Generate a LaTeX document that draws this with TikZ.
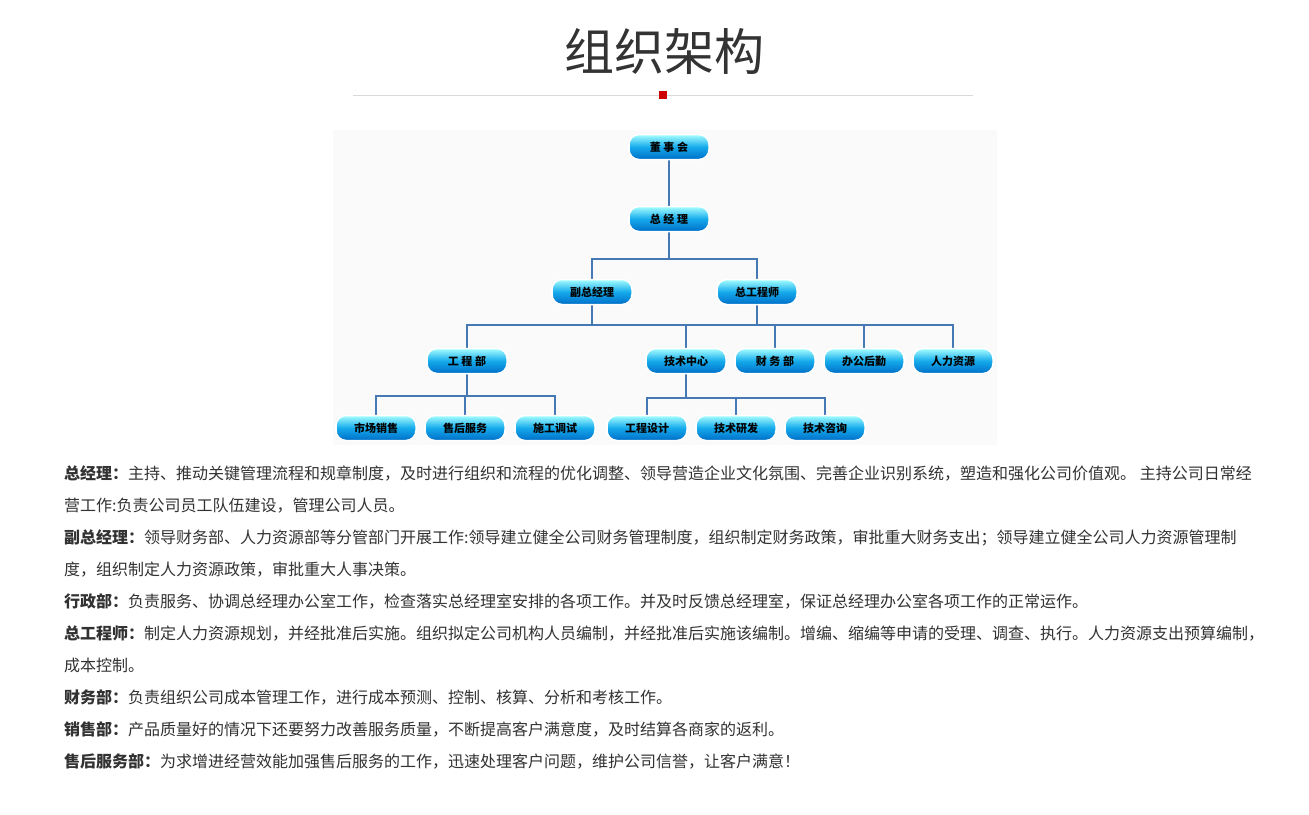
\documentclass[tikz,border=0pt]{standalone}
\usepackage{fontspec}
\setmainfont{Noto Sans CJK SC}
\newfontfamily\cjk{Noto Sans CJK SC}
\begin{document}
\begin{tikzpicture}[x=1pt,y=-1pt,
  box/.style={rounded corners=10pt,draw=white,line width=1.5pt,top color=cyan!35!white,bottom color={rgb,255:red,0;green,110;blue,200},middle color={rgb,255:red,20;green,170;blue,235},minimum width=80pt,minimum height=25pt,inner sep=0pt,font=\cjk\fontsize{11}{11}\selectfont\bfseries},
  conn/.style={draw={rgb,255:red,70;green,120;blue,180},line width=2pt},
  para/.style={anchor=base west,inner sep=0pt,font=\cjk\fontsize{16}{16}\selectfont,text={rgb,255:red,50;green,50;blue,50}}]
\useasboundingbox (0,0) rectangle (1309,814);
\fill[white] (0,0) rectangle (1309,814);
\fill[gray!4] (333,130) rectangle (997,445);
\node (title) at (664,52) {\cjk\fontsize{50}{50}\selectfont\color{black!80}组织架构};
\draw[gray!30,line width=0.8pt] (353,95) -- (973,95);
\fill[red!80!black] (659,91) rectangle (667,99);
% connectors
\coordinate (b1l) at (592,259); \coordinate (b1r) at (757,259);
\coordinate (b2l) at (467,325); \coordinate (b2r) at (953,325); \coordinate (b2m) at (592,325);
\coordinate (b2a) at (686,325); \coordinate (b2b) at (775,325); \coordinate (b2c) at (864,325);
\coordinate (b3l) at (376,396); \coordinate (b3r) at (555,396); \coordinate (b3m) at (465,396);
\coordinate (b4l) at (647,398); \coordinate (b4r) at (825,398); \coordinate (b4m) at (736,398);
\node[box] (dsh) at (669,147) {董 事 会};
\node[box] (zjl) at (669,219) {总 经 理};
\node[box] (fzjl) at (592,292) {副总经理};
\node[box] (zgcs) at (757,292) {总工程师};
\node[box] (gcb) at (467,361) {工 程 部};
\node[box] (jszx) at (686,361) {技术中心};
\node[box] (cwb) at (775,361) {财 务 部};
\node[box] (bghq) at (864,361) {办公后勤};
\node[box] (rlzy) at (953,361) {人力资源};
\node[box] (scxs) at (376,428) {市场销售};
\node[box] (shfw) at (465,428) {售后服务};
\node[box] (sgts) at (555,428) {施工调试};
\node[box] (gcsj) at (647,428) {工程设计};
\node[box] (jsyf) at (736,428) {技术研发};
\node[box] (jszs) at (825,428) {技术咨询};
\path[conn] (dsh) -- (zjl);
\path[conn] (zjl) |- (b1l) -- (fzjl);
\path[conn] (zjl) |- (b1r) -- (zgcs);
\path[conn] (fzjl) |- (b2l) -- (gcb);
\path[conn] (zgcs) |- (b2r) -- (rlzy);
\path[conn] (b2m) -- (b2r);
\path[conn] (b2a) -- (jszx);
\path[conn] (b2b) -- (cwb);
\path[conn] (b2c) -- (bghq);
\path[conn] (gcb) |- (b3l) -- (scxs);
\path[conn] (b3l) -- (b3r) -- (sgts);
\path[conn] (b3m) -- (shfw);
\path[conn] (jszx) |- (b4l) -- (gcsj);
\path[conn] (b4l) -- (b4r) -- (jszs);
\path[conn] (b4m) -- (jsyf);
\foreach \n/\t in {dsh/董 事 会,zjl/总 经 理,fzjl/副总经理,zgcs/总工程师,gcb/工 程 部,jszx/技术中心,cwb/财 务 部,bghq/办公后勤,rlzy/人力资源,scxs/市场销售,shfw/售后服务,sgts/施工调试,gcsj/工程设计,jsyf/技术研发,jszs/技术咨询}
  \node[box] at (\n) {\t};
% paragraphs
\node[para] (p1) at (64,479) {\textbf{总经理：}主持、推动关键管理流程和规章制度，及时进行组织和流程的优化调整、领导营造企业文化氛围、完善企业识别系统，塑造和强化公司价值观。 主持公司日常经};
\node[para] (p2) at (64,511) {营工作:负责公司员工队伍建设，管理公司人员。};
\node[para] (p3) at (64,543) {\textbf{副总经理：}领导财务部、人力资源部等分管部门开展工作:领导建立健全公司财务管理制度，组织制定财务政策，审批重大财务支出；领导建立健全公司人力资源管理制};
\node[para] (p4) at (64,575) {度，组织制定人力资源政策，审批重大人事决策。};
\node[para] (p5) at (64,607) {\textbf{行政部：}负责服务、协调总经理办公室工作，检查落实总经理室安排的各项工作。并及时反馈总经理室，保证总经理办公室各项工作的正常运作。};
\node[para] (p6) at (64,639) {\textbf{总工程师：}制定人力资源规划，并经批准后实施。组织拟定公司机构人员编制，并经批准后实施该编制。增编、缩编等申请的受理、调查、执行。人力资源支出预算编制，};
\node[para] (p7) at (64,671) {成本控制。};
\node[para] (p8) at (64,703) {\textbf{财务部：}负责组织公司成本管理工作，进行成本预测、控制、核算、分析和考核工作。};
\node[para] (p9) at (64,735) {\textbf{销售部：}产品质量好的情况下还要努力改善服务质量，不断提高客户满意度，及时结算各商家的返利。};
\node[para] (p10) at (64,767) {\textbf{售后服务部：}为求增进经营效能加强售后服务的工作，迅速处理客户问题，维护公司信誉，让客户满意！};
\end{tikzpicture}
\end{document}
